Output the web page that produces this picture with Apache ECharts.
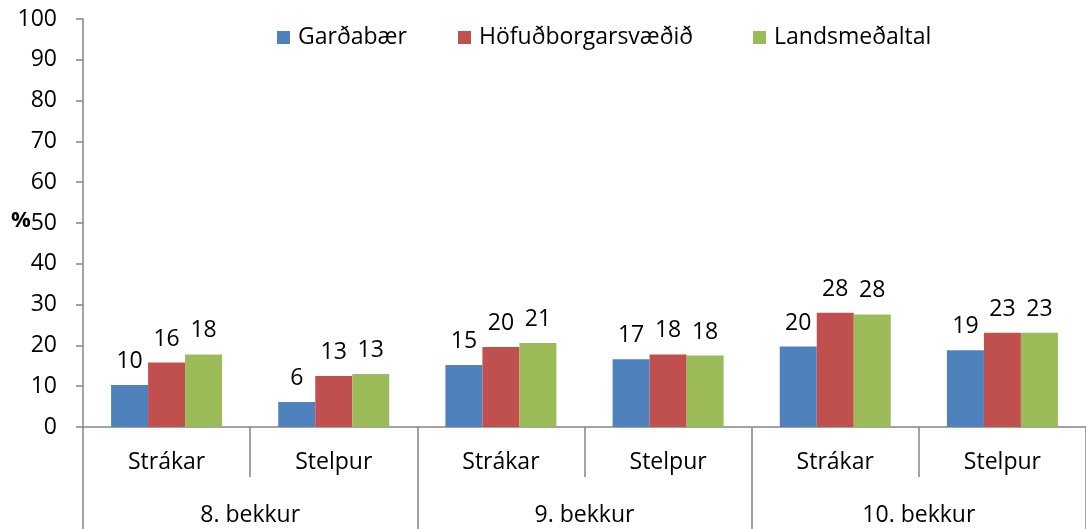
<!DOCTYPE html>
<html>
<head>
<meta charset="utf-8">
<script src="https://cdn.jsdelivr.net/npm/echarts@6/dist/echarts.min.js"></script>
<style>
  html, body { margin: 0; padding: 0; background: #fff; }
  #chart { width: 1086px; height: 529px; }
</style>
</head>
<body>
<div id="chart"></div>
<script>
// Sub-categories (gender) within each grade, and the grade groups
const genders = ['Strákar', 'Stelpur', 'Strákar', 'Stelpur', 'Strákar', 'Stelpur'];
const grades = ['8. bekkur', '9. bekkur', '10. bekkur'];

const seriesNames = ['Garðabær', 'Höfuðborgarsvæðið', 'Landsmeðaltal'];
const gardabaer = [10.3, 6.1, 15.2, 16.6, 19.7, 18.8];
const hofudborg = [15.8, 12.5, 19.6, 17.8, 28.0, 23.1];
const landsmedaltal = [17.8, 13.0, 20.6, 17.5, 27.6, 23.1];

const yTicks = { min: 0, max: 100, interval: 10 };
const colors = ['#4F81BD', '#C0504D', '#9BBB59'];

const FONT = '"Open Sans", "DejaVu Sans", sans-serif';
const AXIS_GRAY = '#858585';

const chart = echarts.init(document.getElementById('chart'), null, { renderer: 'canvas' });

function barSeries(name, data, color) {
  return {
    name: name,
    type: 'bar',
    xAxisIndex: 0,
    data: data,
    barWidth: 37,
    barGap: '0%',
    itemStyle: { color: color },
    label: {
      show: true,
      position: 'top',
      distance: 12,
      color: '#000',
      fontFamily: FONT,
      fontSize: 23,
      formatter: p => Math.round(p.value)
    }
  };
}

// One legend entry per component so each key sits at its own spot
const legendLefts = [272, 453, 748];
const legends = seriesNames.map((name, i) => ({
  data: [name],
  top: 21,
  left: legendLefts[i],
  itemWidth: 13,
  itemHeight: 13,
  icon: 'rect',
  textStyle: { fontFamily: FONT, fontSize: 23, color: '#000', padding: [0, 0, 0, 3] }
}));

chart.setOption({
  animation: false,
  textStyle: { fontFamily: FONT },
  color: colors,
  legend: legends,
  grid: { left: 83, right: -5, top: 19, bottom: 102, containLabel: false },
  graphic: [{
    type: 'text',
    left: 11,
    top: 210,
    style: { text: '%', font: 'bold 22px ' + FONT, fill: '#000' }
  }],
  xAxis: [
    {
      type: 'category',
      data: genders,
      position: 'bottom',
      axisLine: { show: true, lineStyle: { color: AXIS_GRAY, width: 1.5 } },
      axisTick: { show: true, interval: 0, length: 50, lineStyle: { color: AXIS_GRAY, width: 1.5 } },
      axisLabel: { interval: 0, margin: 24, color: '#000', fontFamily: FONT, fontSize: 23 },
      splitLine: { show: false }
    },
    {
      type: 'category',
      data: grades,
      position: 'bottom',
      offset: 50,
      axisLine: { show: false },
      axisTick: { show: true, interval: 0, length: 55, lineStyle: { color: AXIS_GRAY, width: 1.5 } },
      axisLabel: { interval: 0, margin: 27, color: '#000', fontFamily: FONT, fontSize: 23 },
      splitLine: { show: false }
    }
  ],
  yAxis: {
    type: 'value',
    min: yTicks.min,
    max: yTicks.max,
    interval: yTicks.interval,
    axisLine: { show: true, lineStyle: { color: AXIS_GRAY, width: 1.5 } },
    axisTick: { show: true, length: 7, lineStyle: { color: AXIS_GRAY, width: 1.5 } },
    axisLabel: { margin: 26, color: '#000', fontFamily: FONT, fontSize: 23 },
    splitLine: { show: false }
  },
  series: [
    barSeries(seriesNames[0], gardabaer, colors[0]),
    barSeries(seriesNames[1], hofudborg, colors[1]),
    barSeries(seriesNames[2], landsmedaltal, colors[2])
  ]
});
</script>
</body>
</html>
